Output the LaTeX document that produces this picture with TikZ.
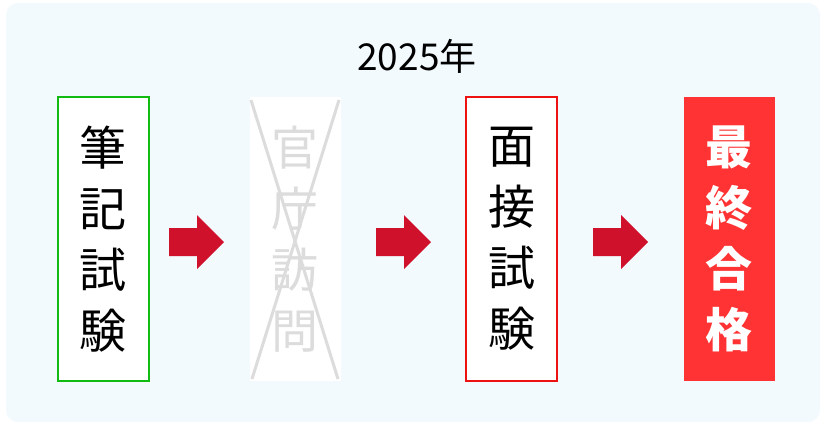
\documentclass[tikz,border=0pt]{standalone}
\usepackage{fontspec}
\newfontfamily\cjk{Noto Sans CJK JP}
\definecolor{bgblue}{HTML}{F3FAFE}
\definecolor{boxgreen}{HTML}{11BB11}
\definecolor{boxred}{HTML}{EE1111}
\definecolor{arrowred}{HTML}{D0112B}
\definecolor{finalred}{HTML}{FF3333}
\definecolor{crossgray}{HTML}{DCDCDC}
\tikzset{
  stage/.style={minimum width=91pt, minimum height=284pt, inner sep=0pt, align=center,
    font=\cjk\fontsize{47}{61}\selectfont},
  flowarrow/.style={fill=arrowred, draw=none},
}
\begin{document}
\begin{tikzpicture}[x=1pt,y=-1pt]
\useasboundingbox (0,0) rectangle (825,424);
\fill[white] (0,0) rectangle (825,424);
\fill[bgblue, rounded corners=12pt] (6,3) rectangle (820,422);
\node[font=\cjk\fontsize{37}{40}\selectfont] (year) at (417,56) {2025年};
\node[stage, draw=boxgreen, line width=2pt, fill=white] (s1) at (103,239) {筆\\記\\試\\験};
\node[stage, fill=white, text=crossgray] (s2) at (295,239) {官\\庁\\訪\\問};
\draw[crossgray, line width=3pt] (251,100) -- (338,379);
\draw[crossgray, line width=3pt] (339,100) -- (252,379);
\node[stage, draw=boxred, line width=2pt, fill=white] (s3) at (511.5,239) {面\\接\\試\\験};
\node[stage, fill=finalred, text=white, font=\cjk\bfseries\fontsize{47}{61}\selectfont] (s4) at (729,239) {最\\終\\合\\格};
\foreach \x [count=\i] in {169,376,593}{
  \coordinate (a\i) at (\x,242);
  \fill[flowarrow] (a\i) ++(0,-14) -- ++(28,0) -- ++(0,-13) -- ++(27,27) -- ++(-27,27) -- ++(0,-13) -- ++(-28,0) -- cycle;
}
\end{tikzpicture}
\end{document}
